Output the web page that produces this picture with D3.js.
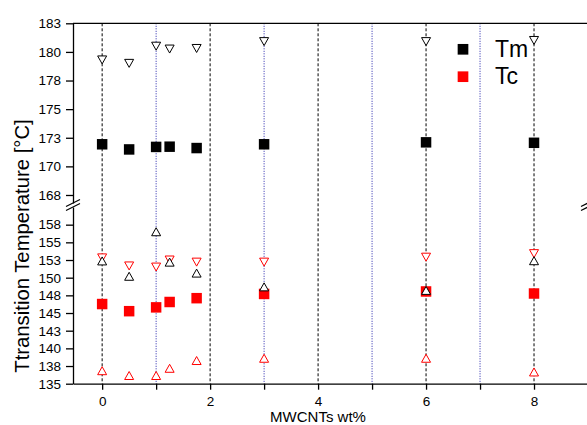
<!DOCTYPE html>
<html>
<head>
<meta charset="utf-8">
<script src="https://cdn.jsdelivr.net/npm/d3@7"></script>
<style>
  body { margin: 0; background: #fff; }
  svg { display: block; }
</style>
</head>
<body>
<div id="container"></div>
<script>
/* CONSTANTS AND GLOBALS */
const width = 587,
  height = 425,
  font = "'Liberation Sans', Arial, sans-serif";

/* DATA */
const loadings = [0, 0.5, 1, 1.25, 1.75, 3, 6, 8];          // MWCNTs wt%
const tmPeak   = [171.93, 171.48, 171.7, 171.72, 171.6, 171.93, 172.1, 172.06];
const tmEnd    = [179.3, 179.0, 180.5, 180.25, 180.3, 180.9, 180.9, 181.0];
const tmOnset  = [152.37, 150.2, 156.5, 152.2, 150.65, 148.7, 148.2, 152.4];
const tcPeak   = [146.27, 145.26, 145.8, 146.56, 147.1, 147.7, 148.05, 147.76];
const tcOnset  = [152.8, 151.66, 151.5, 152.5, 152.2, 152.2, 152.9, 153.4];
const tcEnd    = [136.84, 136.16, 136.16, 137.18, 138.28, 138.6, 138.6, 136.66];

const topTicks = [167.5, 170, 172.5, 175, 177.5, 180, 182.5];
const bottomTicks = [135, 137.5, 140, 142.5, 145, 147.5, 150, 152.5, 155, 157.5];
const xTicks = [0, 1, 2, 3, 4, 5, 6, 7, 8];
const blackLines = [0, 2, 4, 6, 8];
const blueLines = [1, 3, 5, 7];
const legendItems = ["Tm", "Tc"];

/* SCALES */
const xScale = d3.scaleLinear().domain([-0.54, 9]).range([73, 588]);
const yTop = d3.scaleLinear().domain([166.8, 182.5]).range([203, 23.3]);
const yBottom = d3.scaleLinear().domain([135, 160]).range([383.7, 207]);
const yAny = v => (v > 163 ? yTop(v) : yBottom(v));

// triangle centred on its bounding box, 9 wide, 8 tall
const triUp = {
  draw(ctx) {
    ctx.moveTo(0, -4); ctx.lineTo(4.5, 4); ctx.lineTo(-4.5, 4); ctx.closePath();
  }
};
const triDown = {
  draw(ctx) {
    ctx.moveTo(0, 4); ctx.lineTo(4.5, -4); ctx.lineTo(-4.5, -4); ctx.closePath();
  }
};

const svg = d3.select("#container")
  .append("svg")
  .attr("width", width)
  .attr("height", height);

/* GRID LINES */
svg.selectAll("line.black")
  .data(blackLines)
  .join("line")
  .attr("x1", d => xScale(d)).attr("x2", d => xScale(d))
  .attr("y1", yTop(182.5)).attr("y2", yBottom(135))
  .attr("stroke", "#000")
  .attr("stroke-width", 1)
  .attr("stroke-dasharray", "3,2");

svg.selectAll("line.blue")
  .data(blueLines)
  .join("line")
  .attr("x1", d => xScale(d)).attr("x2", d => xScale(d))
  .attr("y1", yTop(182.5)).attr("y2", yBottom(135))
  .attr("stroke", "#2222aa")
  .attr("stroke-width", 1)
  .attr("stroke-dasharray", "1,1.5");

/* AXES */
const styleAxis = g => {
  g.selectAll("path, line").attr("stroke", "#000").attr("stroke-width", 1.3);
  g.selectAll("text").attr("font-family", font).attr("font-size", 13.5).attr("fill", "#000");
};

svg.append("g")
  .attr("transform", `translate(${xScale(-0.54)},0)`)
  .call(d3.axisLeft(yTop).tickValues(topTicks).tickFormat(d3.format(".0f"))
    .tickSize(7).tickSizeOuter(0).tickPadding(5))
  .call(styleAxis);

svg.append("g")
  .attr("transform", `translate(${xScale(-0.54)},0)`)
  .call(d3.axisLeft(yBottom).tickValues(bottomTicks).tickFormat(d3.format(".0f"))
    .tickSize(7).tickSizeOuter(0).tickPadding(5))
  .call(styleAxis);

svg.append("g")
  .attr("transform", `translate(0,${yBottom(135)})`)
  .call(d3.axisBottom(xScale).tickValues(xTicks).tickFormat(d => (d % 2 === 0 ? d : ""))
    .tickSize(6).tickSizeOuter(0).tickPadding(7))
  .call(styleAxis);

// top frame line
svg.append("line")
  .attr("x1", xScale(-0.54)).attr("x2", xScale(9))
  .attr("y1", yTop(182.5)).attr("y2", yTop(182.5))
  .attr("stroke", "#000").attr("stroke-width", 1.3);

// right axis (sits just past the edge)
[[yTop(182.5), yTop(166.8)], [yBottom(160), yBottom(135)]].forEach(([a, b]) => {
  svg.append("line")
    .attr("x1", xScale(9)).attr("x2", xScale(9))
    .attr("y1", a).attr("y2", b)
    .attr("stroke", "#000").attr("stroke-width", 1.3);
});

// break marks
[xScale(-0.54), xScale(9)].forEach(bx => {
  [yTop(166.8), yBottom(160)].forEach(by => {
    svg.append("line")
      .attr("x1", bx - 7).attr("y1", by + 3.5)
      .attr("x2", bx + 7).attr("y2", by - 3.5)
      .attr("stroke", "#000").attr("stroke-width", 1.2);
  });
});

/* AXIS TITLES */
svg.append("text")
  .attr("x", 318).attr("y", 422)
  .attr("text-anchor", "middle")
  .attr("font-family", font).attr("font-size", 15)
  .text("MWCNTs wt%");

svg.append("text")
  .attr("transform", "translate(29,246) rotate(-90)")
  .attr("text-anchor", "middle")
  .attr("font-family", font).attr("font-size", 20.3)
  .text("Ttransition Temperature [°C]");

/* MARKS */
const sq = d3.symbol().type(d3.symbolSquare).size(110);

const drawPoints = (values, shape, stroke, fill) => {
  svg.append("g")
    .selectAll("path")
    .data(loadings.map((x, i) => ({ x, y: values[i] })))
    .join("path")
    .attr("transform", d => `translate(${xScale(d.x)},${yAny(d.y)})`)
    .attr("d", shape)
    .attr("fill", fill)
    .attr("stroke", stroke)
    .attr("stroke-width", 1);
};

drawPoints(tmPeak, sq, "none", "#000");
drawPoints(tcPeak, sq, "none", "#ff0000");
drawPoints(tmEnd, d3.symbol().type(triDown)(), "#000", "#fff");
drawPoints(tcEnd, d3.symbol().type(triUp)(), "#ff0000", "#fff");
drawPoints(tcOnset, d3.symbol().type(triDown)(), "#ff0000", "#fff");
drawPoints(tmOnset, d3.symbol().type(triUp)(), "#000", "#fff");

/* LEGEND */
const legend = svg.append("g");
legend.selectAll("path")
  .data(legendItems)
  .join("path")
  .attr("transform", (d, i) => `translate(463,${49.3 + i * 27.4})`)
  .attr("d", d3.symbol().type(d3.symbolSquare).size(114)())
  .attr("fill", (d, i) => (i === 0 ? "#000" : "#ff0000"));

legend.selectAll("text")
  .data(legendItems)
  .join("text")
  .attr("x", 495)
  .attr("y", (d, i) => 57 + i * 27)
  .attr("font-family", font).attr("font-size", 23)
  .text(d => d);
</script>
</body>
</html>
